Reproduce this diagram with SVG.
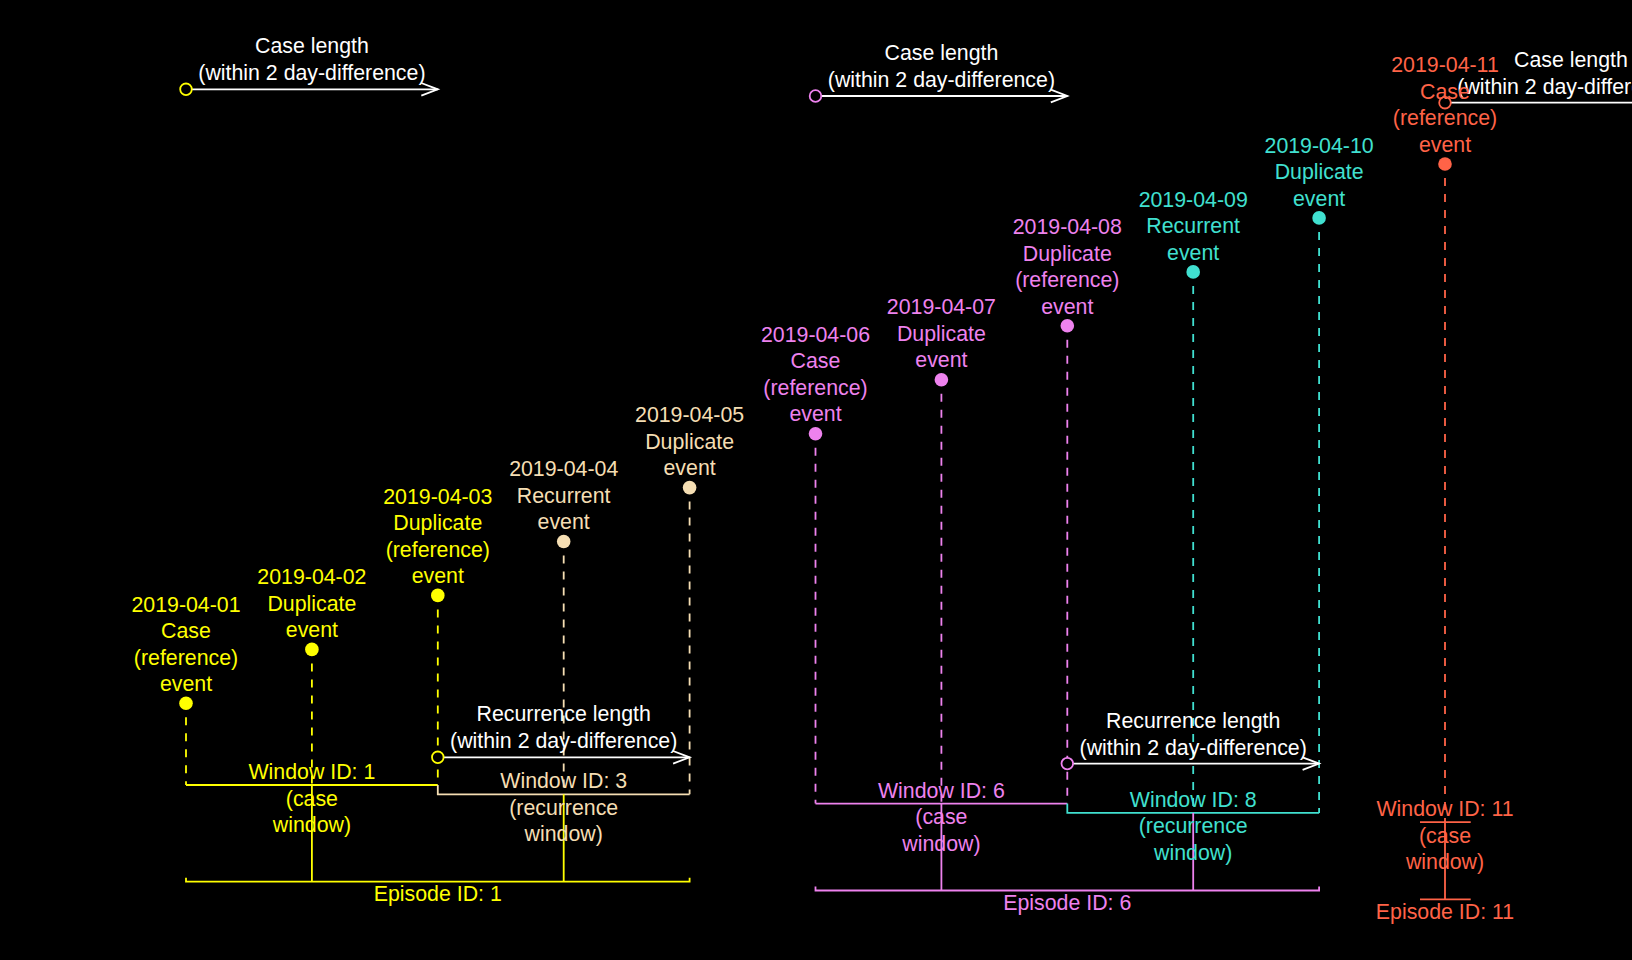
<svg xmlns="http://www.w3.org/2000/svg" width="1632" height="960" viewBox="0 0 1632 960">
<style>
text{font-family:"Liberation Sans",Arial,sans-serif;font-size:21.33px;text-anchor:middle}
.w{fill:#FFFFFF}.y{fill:#FFFF00}.h{fill:#F5DEB3}.v{fill:#EE82EE}.t{fill:#40E0D0}.r{fill:#FF6347}
.sy{stroke:#FFFF00}.sh{stroke:#F5DEB3}.sv{stroke:#EE82EE}.st{stroke:#40E0D0}.sr{stroke:#FF6347}.sw{stroke:#FFFFFF}
.ln{fill:none;stroke-width:1.8}
.d{fill:none;stroke-width:1.8;stroke-dasharray:8 8}
.ring{fill:#000000;stroke-width:1.8}
.arr{fill:none;stroke:#FFFFFF;stroke-width:1.8;marker-end:url(#chev)}
</style>
<defs>
<marker id="chev" markerUnits="userSpaceOnUse" markerWidth="20" markerHeight="16" refX="17" refY="7" orient="auto" overflow="visible">
<path d="M0.5,0.7 L17,7 L0.5,13.3" fill="none" stroke="#FFFFFF" stroke-width="1.8"/>
</marker>
</defs>
<rect x="0" y="0" width="1632" height="960" fill="#000000"/>

<g id="connectors">
<!-- dashed drop lines -->
<line class="d sy" x1="186" y1="717.3" x2="186" y2="785"/>
<line class="d sy" x1="311.9" y1="663.4" x2="311.9" y2="785"/>
<line class="d sy" x1="437.8" y1="609.4" x2="437.8" y2="785"/>
<line class="d sh" x1="563.7" y1="555.5" x2="563.7" y2="794.3"/>
<line class="d sh" x1="689.6" y1="501.6" x2="689.6" y2="794.3"/>
<line class="d sv" x1="815.5" y1="447.7" x2="815.5" y2="803.6"/>
<line class="d sv" x1="941.4" y1="393.7" x2="941.4" y2="803.6"/>
<line class="d sv" x1="1067.3" y1="339.8" x2="1067.3" y2="803.6"/>
<line class="d st" x1="1193.2" y1="285.9" x2="1193.2" y2="812.9"/>
<line class="d st" x1="1319.1" y1="231.9" x2="1319.1" y2="812.9"/>
<line class="d sr" x1="1445" y1="178" x2="1445" y2="822.2"/>
<!-- window brackets -->
<path class="ln sy" d="M186,785 H437.8"/>
<path class="ln sh" d="M437.8,785 V794.3 H689.6"/>
<path class="ln sv" d="M815.5,803.6 H1067.3"/>
<path class="ln st" d="M1067.3,803.6 V812.9 H1319.1"/>
<path class="ln sr" d="M1420,822.2 H1470.7"/>
<!-- window to episode links -->
<line class="ln sy" x1="311.9" y1="785" x2="311.9" y2="881.7"/>
<line class="ln sy" x1="563.7" y1="794.3" x2="563.7" y2="881.7"/>
<line class="ln sv" x1="941.4" y1="803.6" x2="941.4" y2="890.5"/>
<line class="ln sv" x1="1193.2" y1="812.9" x2="1193.2" y2="890.5"/>
<line class="ln sr" x1="1445" y1="822.2" x2="1445" y2="899.3"/>
<!-- episode brackets -->
<path class="ln sy" d="M186,877.7 V881.7 H689.6 V877.7"/>
<path class="ln sv" d="M815.5,886.5 V890.5 H1319.1 V886.5"/>
<path class="ln sr" d="M1420,899.3 H1470.7"/>
<!-- case length arrows -->
<line class="arr" x1="191.8" y1="89.3" x2="437.8" y2="89.3"/>
<circle class="ring sy" cx="186" cy="89.3" r="5.8"/>
<line class="arr" x1="821.3" y1="96" x2="1067.3" y2="96"/>
<circle class="ring sv" cx="815.5" cy="96" r="5.8"/>
<line class="arr" x1="1450.8" y1="102.7" x2="1696.8" y2="102.7"/>
<circle class="ring sr" cx="1445" cy="102.7" r="5.8"/>
<!-- recurrence length arrows -->
<line class="arr" x1="443.6" y1="757.3" x2="689.6" y2="757.3"/>
<circle class="ring sy" cx="437.8" cy="757.3" r="5.8"/>
<line class="arr" x1="1073.1" y1="763.6" x2="1319.1" y2="763.6"/>
<circle class="ring sv" cx="1067.3" cy="763.6" r="5.8"/>
</g>

<g id="case-length-1"><text class="w" x="311.9" y="53.3">Case length</text><text class="w" x="311.9" y="80.3">(within 2 day-difference)</text></g>
<g id="case-length-6"><text class="w" x="941.4" y="60">Case length</text><text class="w" x="941.4" y="87">(within 2 day-difference)</text></g>
<g id="case-length-11"><text class="w" x="1570.9" y="66.7">Case length</text><text class="w" x="1570.9" y="93.7">(within 2 day-difference)</text></g>
<g id="recurrence-length-3"><text class="w" x="563.7" y="721.3">Recurrence length</text><text class="w" x="563.7" y="748.3">(within 2 day-difference)</text></g>
<g id="recurrence-length-8"><text class="w" x="1193.2" y="727.6">Recurrence length</text><text class="w" x="1193.2" y="754.6">(within 2 day-difference)</text></g>

<g id="event-01"><circle class="y" cx="186" cy="703.3" r="6.8"/><text class="y" y="611.5"><tspan x="186">2019-04-01</tspan><tspan x="186" dy="26.5">Case</tspan><tspan x="186" dy="26.5">(reference)</tspan><tspan x="186" dy="26.5">event</tspan></text></g>
<g id="event-02"><circle class="y" cx="311.9" cy="649.4" r="6.8"/><text class="y" y="584.1"><tspan x="311.9">2019-04-02</tspan><tspan x="311.9" dy="26.5">Duplicate</tspan><tspan x="311.9" dy="26.5">event</tspan></text></g>
<g id="event-03"><circle class="y" cx="437.8" cy="595.4" r="6.8"/><text class="y" y="503.6"><tspan x="437.8">2019-04-03</tspan><tspan x="437.8" dy="26.5">Duplicate</tspan><tspan x="437.8" dy="26.5">(reference)</tspan><tspan x="437.8" dy="26.5">event</tspan></text></g>
<g id="event-04"><circle class="h" cx="563.7" cy="541.5" r="6.8"/><text class="h" y="476.2"><tspan x="563.7">2019-04-04</tspan><tspan x="563.7" dy="26.5">Recurrent</tspan><tspan x="563.7" dy="26.5">event</tspan></text></g>
<g id="event-05"><circle class="h" cx="689.6" cy="487.6" r="6.8"/><text class="h" y="422.3"><tspan x="689.6">2019-04-05</tspan><tspan x="689.6" dy="26.5">Duplicate</tspan><tspan x="689.6" dy="26.5">event</tspan></text></g>
<g id="event-06"><circle class="v" cx="815.5" cy="433.7" r="6.8"/><text class="v" y="341.9"><tspan x="815.5">2019-04-06</tspan><tspan x="815.5" dy="26.5">Case</tspan><tspan x="815.5" dy="26.5">(reference)</tspan><tspan x="815.5" dy="26.5">event</tspan></text></g>
<g id="event-07"><circle class="v" cx="941.4" cy="379.7" r="6.8"/><text class="v" y="314.4"><tspan x="941.4">2019-04-07</tspan><tspan x="941.4" dy="26.5">Duplicate</tspan><tspan x="941.4" dy="26.5">event</tspan></text></g>
<g id="event-08"><circle class="v" cx="1067.3" cy="325.8" r="6.8"/><text class="v" y="234"><tspan x="1067.3">2019-04-08</tspan><tspan x="1067.3" dy="26.5">Duplicate</tspan><tspan x="1067.3" dy="26.5">(reference)</tspan><tspan x="1067.3" dy="26.5">event</tspan></text></g>
<g id="event-09"><circle class="t" cx="1193.2" cy="271.9" r="6.8"/><text class="t" y="206.6"><tspan x="1193.2">2019-04-09</tspan><tspan x="1193.2" dy="26.5">Recurrent</tspan><tspan x="1193.2" dy="26.5">event</tspan></text></g>
<g id="event-10"><circle class="t" cx="1319.1" cy="217.9" r="6.8"/><text class="t" y="152.6"><tspan x="1319.1">2019-04-10</tspan><tspan x="1319.1" dy="26.5">Duplicate</tspan><tspan x="1319.1" dy="26.5">event</tspan></text></g>
<g id="event-11"><circle class="r" cx="1445" cy="164" r="6.8"/><text class="r" y="72.2"><tspan x="1445">2019-04-11</tspan><tspan x="1445" dy="26.5">Case</tspan><tspan x="1445" dy="26.5">(reference)</tspan><tspan x="1445" dy="26.5">event</tspan></text></g>

<g id="window-1"><text class="y" y="779"><tspan x="311.9">Window ID: 1</tspan><tspan x="311.9" dy="26.5">(case</tspan><tspan x="311.9" dy="26.5">window)</tspan></text></g>
<g id="window-3"><text class="h" y="788.3"><tspan x="563.7">Window ID: 3</tspan><tspan x="563.7" dy="26.5">(recurrence</tspan><tspan x="563.7" dy="26.5">window)</tspan></text></g>
<g id="window-6"><text class="v" y="797.6"><tspan x="941.4">Window ID: 6</tspan><tspan x="941.4" dy="26.5">(case</tspan><tspan x="941.4" dy="26.5">window)</tspan></text></g>
<g id="window-8"><text class="t" y="806.9"><tspan x="1193.2">Window ID: 8</tspan><tspan x="1193.2" dy="26.5">(recurrence</tspan><tspan x="1193.2" dy="26.5">window)</tspan></text></g>
<g id="window-11"><text class="r" y="816.2"><tspan x="1445">Window ID: 11</tspan><tspan x="1445" dy="26.5">(case</tspan><tspan x="1445" dy="26.5">window)</tspan></text></g>

<g id="episode-1"><text class="y" x="437.8" y="901">Episode ID: 1</text></g>
<g id="episode-6"><text class="v" x="1067.3" y="909.8">Episode ID: 6</text></g>
<g id="episode-11"><text class="r" x="1445" y="918.6">Episode ID: 11</text></g>
</svg>
